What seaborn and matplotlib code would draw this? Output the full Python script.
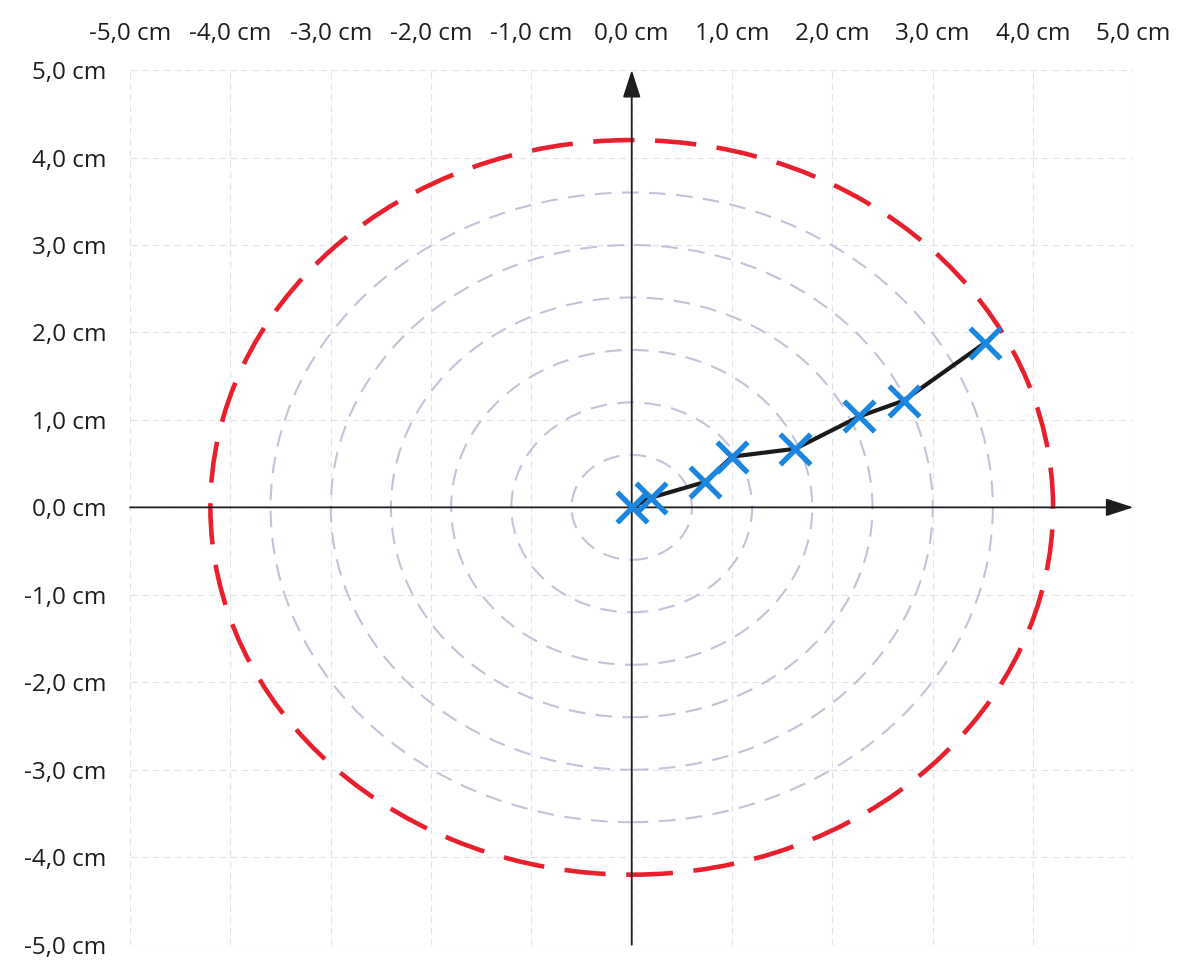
import matplotlib.pyplot as plt
from matplotlib.patches import Circle
import pandas as pd
import seaborn as sns

# measured positions (cm)
pos_x = [0.0, 0.19, 0.73, 1.0, 1.63, 2.27, 2.71, 3.52]
pos_y = [0.0, 0.11, 0.29, 0.58, 0.67, 1.04, 1.22, 1.88]

# reference circles (cm), last one is the limit
ring_radii = [0.6, 1.2, 1.8, 2.4, 3.0, 3.6]
limit_radius = 4.2

tick_values = [-5, -4, -3, -2, -1, 0, 1, 2, 3, 4, 5]
tick_labels = [f"{v:.1f}".replace('.', ',') + " cm" for v in tick_values]

df = pd.DataFrame({'x': pos_x, 'y': pos_y})

sns.set_style('white')
plt.rcParams['font.family'] = ['Open Sans', 'DejaVu Sans']

fig, ax = plt.subplots(figsize=(11.83, 9.6), dpi=100)
fig.subplots_adjust(left=0.110, right=0.958, top=0.927, bottom=0.016)

ax.set_xlim(-5, 5)
ax.set_ylim(-5, 5)
ax.set_xticks(tick_values)
ax.set_yticks(tick_values)
ax.set_xticklabels(tick_labels)
ax.set_yticklabels(tick_labels)
ax.xaxis.tick_top()
ax.tick_params(length=0, labelsize=17.5, colors='#1e1e1e')
ax.tick_params(axis='x', pad=17)
ax.tick_params(axis='y', pad=17)
for s in ax.spines.values():
    s.set_visible(False)

# faint grid
ax.grid(True, color='#e2e2ea', linestyle=(0, (6, 4)), linewidth=0.8)

# grey rings
for r in ring_radii:
    ax.add_patch(Circle((0, 0), r, fill=False, edgecolor='#c2c4da',
                        linestyle=(0, (8, 5)), linewidth=1.5, zorder=2))
# red limit ring
ax.add_patch(Circle((0, 0), limit_radius, fill=False, edgecolor='#e8202e',
                    linestyle=(0, (9, 4.5)), linewidth=3.3, zorder=3))

# axes with arrows
head = '-|>,head_length=1.7,head_width=0.55'
ax.annotate('', xy=(5, 0), xytext=(-5, 0),
            arrowprops=dict(arrowstyle=head, color='#1e1e1e', lw=1.3,
                            shrinkA=0, shrinkB=0), zorder=4)
ax.annotate('', xy=(0, 5), xytext=(0, -5),
            arrowprops=dict(arrowstyle=head, color='#1e1e1e', lw=1.3,
                            shrinkA=0, shrinkB=0), zorder=4)

# trajectory
sns.lineplot(data=df, x='x', y='y', sort=False, ax=ax, color='#1a1a1a',
             linewidth=3, zorder=5)
sns.scatterplot(data=df, x='x', y='y', ax=ax, marker='x', s=480,
                color='#1a86e0', linewidth=3.8, zorder=6)

ax.set_xlabel('')
ax.set_ylabel('')

fig.savefig('out.png', dpi=100)
